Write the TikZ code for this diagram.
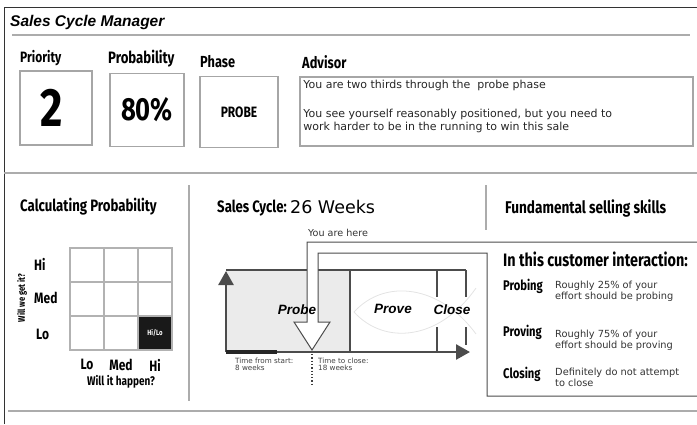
\documentclass[tikz,border=0pt]{standalone}
\usepackage{fontspec}
\setmainfont{DejaVu Sans}
\newfontfamily\condfont[FakeStretch=0.8]{Fira Sans}
\newfontfamily\arialfont{Liberation Sans}
\newfontfamily\verdfont{DejaVu Sans}
\usetikzlibrary{arrows.meta,positioning}

\newcommand{\fs}[1]{\fontsize{#1}{#1}\selectfont}

\begin{document}
\begin{tikzpicture}[
  x=1pt, y=-1pt,
  every node/.style={inner sep=0pt},
  head/.style={font=\condfont\bfseries\fs{16.5}, anchor=west},
  lbl/.style={font=\condfont\bfseries\fs{15}, anchor=west},
  valbox/.style={draw=gray!70, line width=1.6pt, fill=white},
  rule/.style={draw=gray!65, line width=2pt},
  cell/.style={draw=gray!60, line width=1.5pt, minimum size=34pt},
  axis/.style={draw=black!70, line width=2.6pt,
               -{Triangle[length=14pt,width=15pt]}},
  note/.style={font=\verdfont\fs{7.2}, align=left, anchor=north west,
               text=black!75},
  tip/.style={font=\verdfont\fs{9.8}, align=left, anchor=north west,
              text=black!80},
  phase/.style={font=\arialfont\bfseries\itshape\fs{13.5}},
]
\useasboundingbox (0,0) rectangle (697,424);

%% ── frame and rules ─────────────────────────────────────────────────
\draw[black!80, line width=1pt] (4,424) -- (4,7) -- (697,7);
\draw[rule, line width=2.6pt] (12,35) -- (690,35);
\draw[rule] (4,173) -- (697,173);
\draw[rule] (8,411) -- (697,411);
\draw[rule, line width=1.5pt] (189,185) -- (189,401);
\draw[rule, line width=1.5pt] (486,185) -- (486,230);

\node[font=\arialfont\bfseries\itshape\fs{15.5}, anchor=west] (title) at (10,22)
  {Sales Cycle Manager};

%% ── top panel: value boxes and advisor ──────────────────────────────
\node[lbl] (prioLbl) at (20,58) {Priority};
\node[lbl, font=\condfont\bfseries\fs{16.5}] (probLbl) at (108,59) {Probability};
\node[lbl, font=\condfont\bfseries\fs{16}] (phaseLbl) at (200,62) {Phase};
\node[lbl, font=\condfont\bfseries\fs{16}] (advLbl) at (302,62) {Advisor};

\node[valbox, minimum width=72pt, minimum height=74pt] (prio) at (56,108) {};
\node[font=\condfont\bfseries\fs{54}] (prioVal) at (52,108) {2};
\node[valbox, minimum width=74pt, minimum height=73pt] (prob) at (147,110)
  {\condfont\bfseries\fs{32}80\%};
\node[valbox, minimum width=78pt, minimum height=71pt] (phase) at (239,112)
  {\condfont\bfseries\fs{15}PROBE};
\node[valbox, minimum width=393pt, minimum height=69pt] (advisor) at (496.5,111.5) {};
\node[font=\verdfont\fs{11}, align=left, anchor=north west, text=black!85] (advText)
  at ([xshift=4pt,yshift=-4pt]advisor.north west)
  {You are two thirds through the\ \ probe phase\\[18pt]
   You see yourself reasonably positioned, but you need to\\[2pt]
   work harder to be in the running to win this sale};

%% ── bottom left: probability grid ───────────────────────────────────
\node[head] (calcLbl) at (20,207) {Calculating Probability};
\foreach \i in {0,1,2} {
  \foreach \j in {0,1,2} {
    \node[cell] (c-\i-\j) at (87+34*\i, 265+34*\j) {};
  }
}
\node[cell, fill=black!90, text=white, font=\condfont\bfseries\fs{7.5}]
  at (c-2-2) {Hi/Lo};
\node[lbl] (rowHi) at (34,264) {Hi};
\node[lbl] (rowMed) at (34,298) {Med};
\node[lbl] (rowLo) at (36,334) {Lo};
\node[font=\condfont\bfseries\fs{9.5}, rotate=90] (yq) at (22,298) {Will we get it?};
\node[font=\condfont\bfseries\fs{15}, below=8pt of c-0-2] (colLo) {Lo};
\node[font=\condfont\bfseries\fs{15}, below=8pt of c-1-2] (colMed) {Med};
\node[font=\condfont\bfseries\fs{15}, below=8pt of c-2-2] (colHi) {Hi};
\node[font=\condfont\bfseries\fs{12.5}, below=4pt of colMed] (xq) {Will it happen?};

%% ── bottom middle: sales cycle chart ────────────────────────────────
\node[head] (cycLbl) at (217,208) {Sales Cycle:};
\node[font=\verdfont\fs{17.5}, right=3pt of cycLbl, yshift=1pt] (weeks) {26 Weeks};

\fill[gray!16] (226,270) rectangle (350,352);
\draw[gray!22, line width=0.8pt] (354,312) .. controls (385,278) and (440,285) .. (476,334)
  (354,312) .. controls (385,346) and (440,340) .. (476,288);
\draw[black!70, line width=1.1pt] (226,270) -- (466,270)
  (350,270) -- (350,352)
  (437,270) -- (437,297) (437,327) -- (437,352)
  (466,270) -- (466,297) (466,327) -- (466,345);
\coordinate (origin) at (226,352);
\coordinate (yend) at (226,271);
\coordinate (xend) at (470,352);
\draw[axis] (origin) -- (yend);
\draw[axis] (origin) -- (xend);
\draw[black!85, line width=3.2pt] (origin) -- ++(51,0);

% pointer arrow running into the interaction box
\draw[black!70, line width=1pt, fill=white]
  (699,396) -- (487,396) -- (487,253) -- (318,253) -- (318,322) -- (330,322)
  -- (312,350) -- (294,322) -- (307,322) -- (307,242) -- (699,242);
\node[font=\verdfont\fs{9.6}, text=black!80] (here) at (338,233) {You are here};

\node[phase] (probe) at (297,310) {Probe};
\node[phase] (prove) at (393,309) {Prove};
\node[phase] (close) at (452,310) {Close};

\coordinate (now) at (312,354);
\coordinate (nowEnd) at (312,384);
\draw[black!75, dotted, line width=1.3pt] (now) -- (nowEnd);
\node[note] (fromStart) at (235,358) {Time from start:\\8 weeks};
\node[note] (toClose) at (318,358) {Time to close:\\18 weeks};

%% ── bottom right: selling skills ────────────────────────────────────
\node[head, font=\condfont\bfseries\fs{17}] (skillLbl) at (505,208)
  {Fundamental selling skills};
\node[head, font=\condfont\bfseries\fs{18}] (interLbl) at (503,259)
  {In this customer interaction:};
\node[lbl, font=\condfont\bfseries\fs{14}] (probing) at (503,286) {Probing};
\node[tip] (probingTxt) at (555,281) {Roughly 25\% of your\\[1.5pt]effort should be probing};
\node[lbl, font=\condfont\bfseries\fs{14}] (proving) at (503,332) {Proving};
\node[tip] (provingTxt) at (555,330) {Roughly 75\% of your\\[1.5pt]effort should be proving};
\node[lbl, font=\condfont\bfseries\fs{14}] (closing) at (503,374) {Closing};
\node[tip] (closingTxt) at (555,368) {Definitely do not attempt\\[1.5pt]to close};

\end{tikzpicture}
\end{document}
